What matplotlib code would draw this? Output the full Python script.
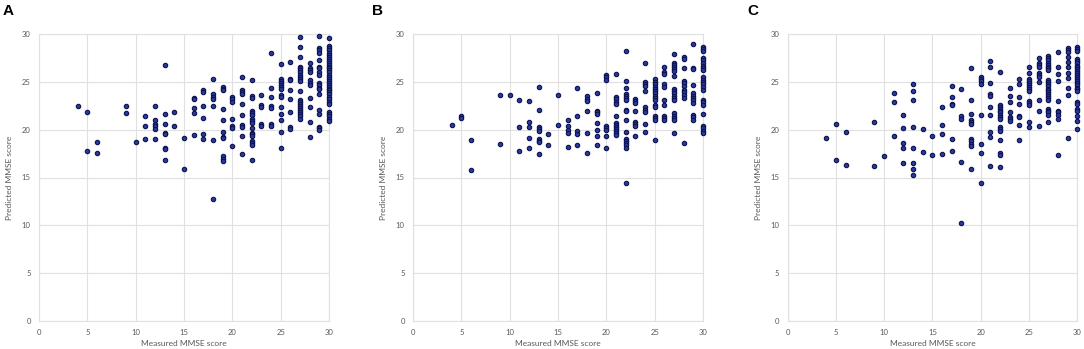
import matplotlib
matplotlib.use("Agg")
import matplotlib.pyplot as plt

# Predicted MMSE values grouped by measured MMSE score
panel_a = {
    4: [22.5], 5: [21.8, 17.8], 6: [18.7, 17.6], 9: [22.5, 21.7], 10: [18.7],
    11: [21.4, 20.4, 19.0],
    12: [22.5, 21.0, 20.55, 20.35, 20.1, 19.05],
    13: [26.8, 21.6, 20.55, 19.6, 19.5, 18.1, 18.0, 16.8],
    14: [21.8, 20.4], 15: [19.1, 15.9],
    16: [23.3, 23.2, 22.3, 21.7, 19.4],
    17: [24.1, 23.9, 22.5, 21.2, 19.5, 19.0],
    18: [25.3, 23.7, 23.4, 23.2, 22.5, 18.9, 12.8],
    19: [24.5, 24.3, 24.1, 22.2, 21.0, 19.8, 19.2, 19.1, 17.2, 16.9, 16.7],
    20: [23.4, 23.2, 22.9, 21.1, 20.35, 20.2, 18.3],
    21: [25.5, 24.1, 23.9, 23.7, 22.7, 21.5, 20.45, 20.3, 19.3, 17.5],
    22: [25.2, 23.5, 23.3, 21.95, 21.7, 21.5, 21.1, 20.9, 20.7, 20.2, 19.7, 19.5,
         19.3, 18.8, 18.6, 18.4, 16.8],
    23: [23.6, 22.6, 22.4, 20.55, 20.35],
    24: [28.0, 24.4, 23.4, 22.5, 22.3, 20.55, 20.35],
    25: [26.9, 25.3, 25.1, 24.9, 24.7, 24.5, 24.25, 23.6, 23.4, 22.4, 21.6, 21.0,
         19.8, 18.1],
    26: [27.1, 25.3, 25.2, 24.1, 23.2, 21.8, 20.25, 20.1],
    27: [29.7, 28.6, 27.6, 26.6, 26.4, 26.2, 26.0, 25.75, 25.5, 25.3, 25.1, 24.0,
         23.1, 22.9, 22.7, 22.5, 22.3, 22.1, 21.8, 21.6, 21.4, 21.15],
    28: [27.0, 26.4, 26.2, 26.0, 25.2, 24.9, 24.7, 23.3, 22.4, 20.8, 19.2],
    29: [29.8, 28.5, 28.3, 28.0, 27.3, 26.6, 26.4, 26.0, 25.7, 24.9, 24.7, 24.4,
         24.2, 23.7, 22.1, 21.6, 20.3, 20.2, 20.0],
    30: [29.55, 28.7, 28.5, 28.3, 28.0, 27.8, 27.6, 27.4, 27.2, 27.0, 26.8, 26.6,
         26.4, 26.2, 26.0, 25.75, 25.5, 25.3, 25.1, 24.9, 24.7, 24.5, 24.3, 24.1,
         23.9, 23.7, 23.4, 23.2, 22.9, 22.7, 21.8, 21.6, 21.4, 21.15, 20.9],
}

panel_b = {
    4: [20.5], 5: [21.4, 21.2], 6: [18.9, 15.8], 9: [23.6, 18.5], 10: [23.6],
    11: [23.1, 20.25, 17.8],
    12: [23.0, 20.8, 20.25, 19.1, 18.1],
    13: [24.5, 22.1, 20.25, 20.1, 19.9, 19.0, 18.85, 18.7, 17.5],
    14: [19.5, 18.4], 15: [23.6, 20.5],
    16: [21.05, 20.35, 19.95, 19.65, 18.2],
    17: [24.4, 21.4, 19.9, 19.5, 18.4],
    18: [23.5, 23.25, 23.0, 22.0, 19.7, 17.6],
    19: [23.8, 22.0, 21.8, 21.6, 20.7, 20.0, 19.35, 18.35],
    20: [25.7, 25.5, 25.2, 20.4, 20.2, 20.0, 19.3, 18.1],
    21: [25.8, 23.4, 23.2, 22.9, 22.7, 21.4, 20.65, 20.45, 20.3, 20.1, 19.85,
         19.65, 19.4],
    22: [28.25, 25.1, 24.4, 23.75, 23.5, 23.3, 23.1, 22.1, 21.9, 21.05, 19.8,
         19.05, 18.85, 18.6, 18.35, 18.1, 14.4],
    23: [23.25, 23.0, 22.75, 22.0, 20.85, 20.6, 20.35, 19.3],
    24: [27.0, 24.95, 24.75, 24.55, 24.0, 22.35, 22.1, 21.85, 20.6, 19.8],
    25: [25.3, 25.0, 24.75, 24.5, 24.25, 24.0, 23.8, 23.5, 23.3, 23.05, 22.6,
         22.4, 21.45, 21.25, 21.05, 18.9],
    26: [26.6, 26.0, 25.8, 24.75, 24.5, 23.05, 22.6, 21.4, 21.2, 21.0],
    27: [27.9, 27.0, 26.8, 26.6, 26.35, 26.15, 25.6, 24.2, 24.0, 23.8, 23.5,
         23.3, 23.05, 21.7, 21.45, 21.2, 21.0, 19.65],
    28: [27.55, 27.4, 26.4, 25.1, 24.85, 24.6, 24.1, 23.9, 23.65, 23.3, 18.6],
    29: [29.0, 26.4, 26.3, 24.65, 23.8, 23.5, 23.3, 23.05, 22.8, 21.55, 21.3, 21.0],
    30: [28.65, 28.4, 28.2, 27.5, 27.3, 26.95, 26.7, 26.45, 26.2, 25.5, 25.2,
         25.0, 24.75, 24.5, 24.15, 23.1, 22.85, 22.6, 21.65, 20.4, 20.2, 19.9, 19.6],
}

panel_c = {
    4: [19.1], 5: [20.6, 16.8], 6: [19.75, 16.35], 9: [20.75, 16.25], 10: [17.2],
    11: [23.85, 22.9, 19.35],
    12: [21.55, 20.2, 18.6, 18.1, 16.55],
    13: [24.75, 24.0, 23.1, 20.25, 18.1, 16.55, 15.85, 15.3],
    14: [20.05, 17.65], 15: [19.3, 17.4],
    16: [22.4, 20.5, 19.5, 17.5],
    17: [24.6, 23.4, 22.7, 22.55, 19.0, 17.75],
    18: [24.2, 21.45, 21.1, 16.65, 10.25],
    19: [26.4, 23.1, 21.6, 21.0, 20.8, 20.6, 19.05, 18.8, 18.55, 18.3, 15.85],
    20: [25.55, 25.3, 25.05, 24.8, 21.55, 18.5, 17.6, 14.4],
    21: [27.15, 26.6, 24.9, 23.7, 23.5, 22.35, 21.5, 19.8, 19.25, 16.2],
    22: [26.0, 22.6, 22.4, 22.2, 22.0, 21.8, 21.55, 21.3, 21.1, 20.3, 20.1, 19.9,
         18.9, 17.6, 17.4, 16.05],
    23: [24.4, 23.55, 22.9, 21.85, 21.3, 21.1, 20.9],
    24: [25.3, 24.8, 23.4, 22.7, 21.45, 21.3, 20.45, 18.9],
    25: [26.5, 25.9, 25.3, 25.1, 24.9, 24.7, 24.45, 24.25, 24.05, 22.95, 22.75,
         22.55, 20.85, 20.3],
    26: [27.5, 27.0, 26.75, 26.55, 25.9, 25.7, 25.5, 25.0, 23.1, 21.95, 20.4],
    27: [27.65, 27.45, 27.25, 27.0, 26.8, 26.6, 26.4, 26.2, 25.15, 24.95, 24.75,
         24.55, 24.3, 24.1, 23.9, 23.7, 23.5, 23.3, 23.05, 22.2, 22.0, 21.8,
         21.55, 20.75],
    28: [28.1, 26.6, 25.8, 25.1, 22.95, 22.0, 21.8, 21.55, 21.1, 17.35],
    29: [28.55, 28.35, 28.15, 27.6, 27.05, 26.5, 25.95, 25.45, 24.4, 23.65, 19.1],
    30: [28.6, 28.4, 28.2, 27.35, 27.15, 26.95, 26.7, 26.5, 26.3, 26.1, 25.9,
         25.7, 25.5, 25.25, 25.05, 24.85, 24.65, 24.4, 24.2, 24.0, 22.9, 22.7,
         22.15, 21.95, 21.45, 20.9, 20.1],
}

panel_letters = ["A", "B", "C"]
tick_values = [0, 5, 10, 15, 20, 25, 30]
x_label = "Measured MMSE score"
y_label = "Predicted MMSE score"

W, H = 1084, 349
fig = plt.figure(figsize=(W / 100, H / 100), dpi=100)

axes_left_px = [39, 413, 787.5]
letter_x_px = [3, 372, 747]
ax_w_px, ax_top_px, ax_bot_px = 290, 34, 321

grid_col = "#e0e0e0"
text_col = "#595959"

for data, letter, lx, llx in zip([panel_a, panel_b, panel_c], panel_letters,
                                 axes_left_px, letter_x_px):
    ax = fig.add_axes([lx / W, (H - ax_bot_px) / H, ax_w_px / W,
                       (ax_bot_px - ax_top_px) / H])
    xs, ys = [], []
    for m, preds in data.items():
        for p in preds:
            xs.append(m)
            ys.append(p)
    ax.scatter(xs, ys, s=10, facecolor="#2a3a99", edgecolor="#0b1250",
               linewidth=0.8, zorder=3, clip_on=False)
    ax.set_xlim(0, 30)
    ax.set_ylim(0, 30)
    ax.set_xticks(tick_values)
    ax.set_yticks(tick_values)
    ax.grid(True, color=grid_col, linewidth=0.8)
    ax.set_axisbelow(True)
    for sp in ax.spines.values():
        sp.set_color(grid_col)
        sp.set_linewidth(0.8)
    ax.tick_params(length=0, labelsize=5.5, colors=text_col, pad=6)
    for lab in ax.get_xticklabels() + ax.get_yticklabels():
        lab.set_family("Lato")
    ax.set_xlabel(x_label, fontsize=6, color=text_col, family="Lato", labelpad=3)
    ax.set_ylabel(y_label, fontsize=6, color=text_col, family="Lato", labelpad=6)
    fig.text(llx / W, 1 - 4 / H, letter, fontsize=11, fontweight="bold",
             family="Liberation Sans", ha="left", va="top")

fig.savefig("out.png", dpi=100)
